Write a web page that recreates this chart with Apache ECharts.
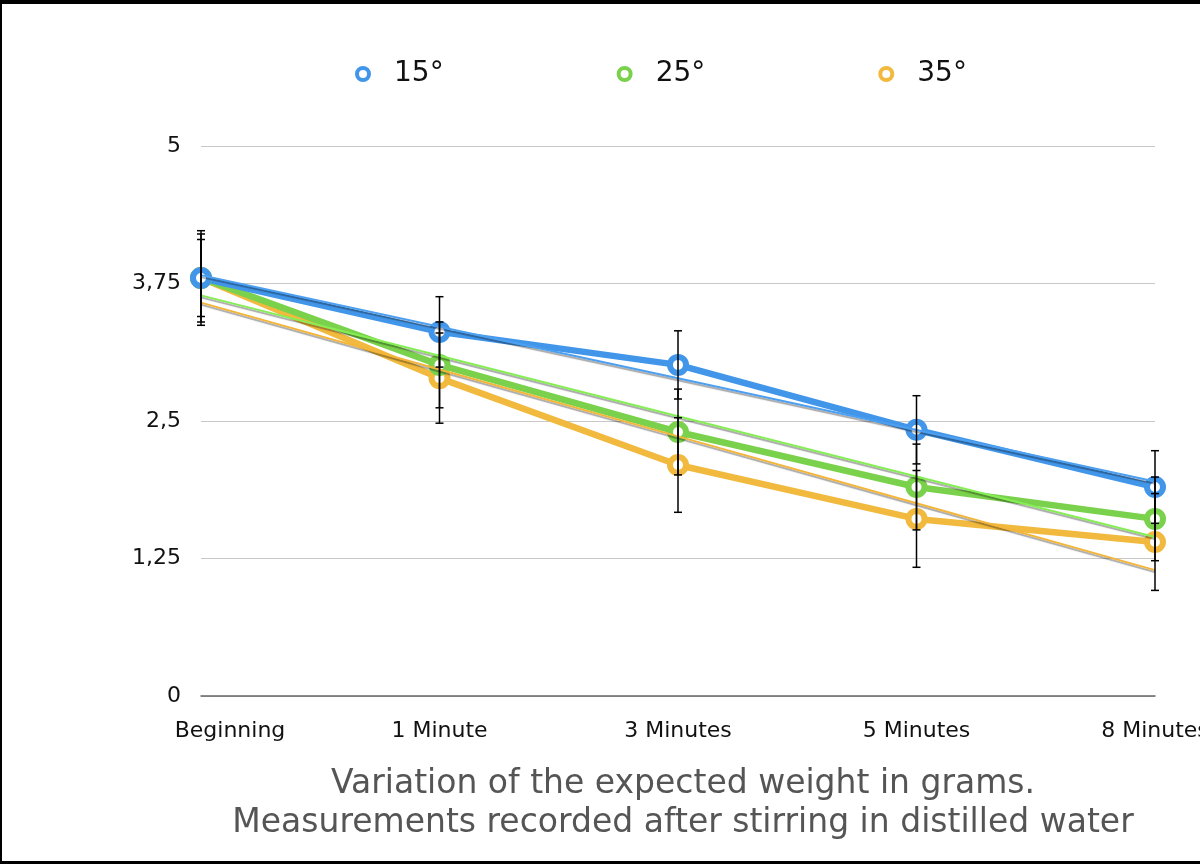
<!DOCTYPE html>
<html lang="en">
<head>
    <meta charset="UTF-8">
    <title>Weight variation</title>
    <script src="https://cdnjs.cloudflare.com/ajax/libs/echarts/6.0.0/echarts.min.js"></script>
    <style>
        * { margin: 0; padding: 0; box-sizing: border-box; }
        body { background: #fff; overflow: hidden; }
        #main {
            position: absolute;
            left: 0;
            top: 0;
            width: 1200px;
            height: 864px;
        }
        .frame {
            position: absolute;
            left: 0;
            top: 0;
            width: 1200px;
            height: 864px;
            border-top: 4px solid #000;
            border-left: 2px solid #000;
            border-bottom: 3px solid #000;
            pointer-events: none;
        }
    </style>
</head>
<body>
    <div id="main"></div>
    <div class="frame"></div>

    <script>
        // data
        const categories = ['Beginning', '1 Minute', '3 Minutes', '5 Minutes', '8 Minutes'];
        const names = ['15°', '25°', '35°'];
        const t15 = [3.8, 3.31, 3.01, 2.42, 1.9];
        const t25 = [3.8, 3.01, 2.4, 1.9, 1.61];
        const t35 = [3.8, 2.89, 2.1, 1.61, 1.4];
        const err15 = [0.35, 0.32, 0.31, 0.31, 0.33];
        const err25 = [0.40, 0.39, 0.39, 0.39, 0.38];
        const err35 = [0.43, 0.41, 0.43, 0.44, 0.44];
        const yTicks = [0, 1.25, 2.5, 3.75, 5];

        const colors = ['#4296ea', '#7ad14b', '#f1b93d'];
        const trendColors = ['#4d9ff0', '#86ee55', '#f3b53a'];
        const font = "'DejaVu Sans', 'Liberation Sans', sans-serif";

        const values = [t15, t25, t35];
        const errs = [err15, err25, err35];

        // least squares trend line over category index
        function trend(arr) {
            const n = arr.length;
            let mx = 0, my = 0;
            arr.forEach((v, i) => { mx += i; my += v; });
            mx /= n; my /= n;
            let num = 0, den = 0;
            arr.forEach((v, i) => { num += (i - mx) * (v - my); den += (i - mx) * (i - mx); });
            const b = num / den;
            return arr.map((v, i) => +(my + b * (i - mx)).toFixed(4));
        }

        var myChart = echarts.init(document.getElementById('main'));

        const series = [];

        // main lines, 15° drawn last so it sits on top
        [2, 1, 0].forEach(k => {
            series.push({
                name: names[k],
                type: 'line',
                data: values[k],
                z: 3,
                symbol: 'circle',
                symbolSize: 16,
                showAllSymbol: true,
                lineStyle: { color: colors[k], width: 6.5 },
                itemStyle: { color: '#fff', borderColor: colors[k], borderWidth: 6 },
                emphasis: { disabled: true }
            });
        });

        // trend lines
        values.forEach((arr, k) => {
            series.push({
                name: names[k] + ' trend',
                type: 'line',
                data: trend(arr),
                z: 4,
                symbol: 'none',
                lineStyle: {
                    color: trendColors[k],
                    width: 2,
                    shadowColor: 'rgba(0,0,0,0.35)',
                    shadowOffsetY: 2,
                    shadowBlur: 1
                },
                silent: true
            });
        });

        // error bars
        values.forEach((arr, k) => {
            series.push({
                name: names[k] + ' err',
                type: 'custom',
                z: 5,
                silent: true,
                data: arr.map((v, i) => [i, v - errs[k][i], v + errs[k][i]]),
                renderItem: function (params, api) {
                    const lo = api.coord([api.value(0), api.value(1)]);
                    const hi = api.coord([api.value(0), api.value(2)]);
                    const w = 4;
                    const st = { stroke: '#000', lineWidth: 1.5 };
                    return {
                        type: 'group',
                        children: [
                            { type: 'line', shape: { x1: hi[0], y1: hi[1], x2: lo[0], y2: lo[1] }, style: st },
                            { type: 'line', shape: { x1: hi[0] - w, y1: hi[1], x2: hi[0] + w, y2: hi[1] }, style: st },
                            { type: 'line', shape: { x1: lo[0] - w, y1: lo[1], x2: lo[0] + w, y2: lo[1] }, style: st }
                        ]
                    };
                }
            });
        });

        var option = {
            animation: false,
            textStyle: { fontFamily: font },
            title: {
                text: 'Variation of the expected weight in grams.\nMeasurements recorded after stirring in distilled water',
                left: 678,
                top: 760,
                textAlign: 'center',
                textStyle: {
                    fontFamily: font,
                    fontWeight: 'normal',
                    fontSize: 33,
                    lineHeight: 39,
                    color: '#555'
                }
            },
            legend: {
                data: names.map((n, k) => ({
                    name: n,
                    icon: 'circle',
                    itemStyle: { color: '#fff', borderColor: colors[k], borderWidth: 4 }
                })),
                left: 350,
                top: 55,
                itemWidth: 12,
                itemHeight: 12,
                itemGap: 173,
                textStyle: { fontFamily: font, fontSize: 28, color: '#111', padding: [0, 0, 0, 20] },
                selectedMode: false
            },
            grid: {
                left: 201,
                right: 45,
                top: 146,
                bottom: 168,
                containLabel: false,
                outerBoundsMode: 'none'
            },
            xAxis: {
                type: 'category',
                data: categories,
                boundaryGap: false,
                axisLine: { lineStyle: { color: '#666', width: 1.5 } },
                axisTick: { show: false },
                splitLine: { show: false },
                axisLabel: {
                    fontFamily: font,
                    fontSize: 22,
                    color: '#111',
                    margin: 24,
                    interval: 0,
                    hideOverlap: false,
                    formatter: function (v, i) {
                        return i === 0 ? '{first|' + v + '}' : v;
                    },
                    rich: {
                        first: { fontFamily: font, fontSize: 22, color: '#111', padding: [0, 0, 0, 58] }
                    }
                }
            },
            yAxis: {
                type: 'value',
                min: yTicks[0],
                max: yTicks[yTicks.length - 1],
                interval: yTicks[1] - yTicks[0],
                axisLine: { show: false },
                axisTick: { show: false },
                splitLine: { lineStyle: { color: '#c8c8c8', width: 1 } },
                axisLabel: {
                    fontFamily: font,
                    fontSize: 22,
                    color: '#111',
                    margin: 20,
                    formatter: function (v) { return String(v).replace('.', ','); }
                }
            },
            series: series
        };

        myChart.setOption(option);
    </script>
</body>
</html>
